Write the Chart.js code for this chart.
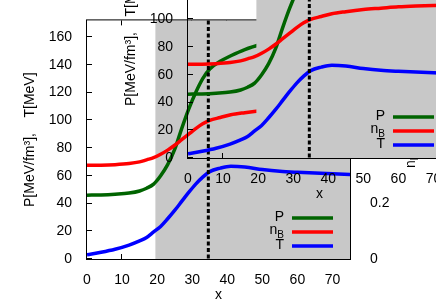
<!DOCTYPE html>
<html lang="en">
<head>
<meta charset="UTF-8">
<title>P, nB, T vs x</title>
<script src="https://cdn.jsdelivr.net/npm/chart.js@4.4.1/dist/chart.umd.min.js"></script>
<style>
  html, body { margin: 0; padding: 0; background: #fff; }
  #wrap { position: relative; width: 436px; height: 305px; overflow: hidden; }
  canvas { position: absolute; }
  #main { left: 0; top: 0; }
  #inset { left: 101px; top: -101px; }
</style>
</head>
<body>
<div id="wrap">
  <canvas id="main" width="436" height="305"></canvas>
  <canvas id="inset" width="436" height="305"></canvas>
</div>
<script>
// values
const xs     = [0, 4, 8, 12, 15, 17, 19, 21, 23, 25, 27, 29, 31, 33, 35, 38, 41, 45, 50, 55, 60, 65, 70, 75];
const pVals  = [46, 46.2, 46.7, 47.5, 49, 51, 54, 60, 68, 79, 94, 108, 120, 130, 137, 142.5, 146.5, 151, 155, 158, 160.5, 162.5, 164, 165];
const nbVals = [67.5, 67.6, 68, 68.8, 70, 71.5, 73, 75.5, 78.5, 82, 86, 90, 94, 97.5, 100, 102, 104, 105.5, 107, 108, 109, 109.6, 110, 110.3];
const tVals  = [3, 4.8, 7, 10, 13, 15.5, 19.5, 23.5, 29, 35, 41.5, 48, 54, 59, 63, 65.5, 66.8, 66.3, 64.5, 63.2, 62.5, 62, 61.5, 61];

const seriesNames = ['P', 'nB', 'T'];
const xTicks  = [0, 10, 20, 30, 40, 50, 60, 70];
const yTicks  = [0, 20, 40, 60, 80, 100, 120, 140, 160];
const y2Ticks = [0, 0.2, 0.4, 0.6, 0.8];
const shadeFrom = 19.5;   // grey band starts here
const vline = 34.6;       // dotted marker

const FONT = '"Liberation Sans", Arial, sans-serif';
const colors = ['#006400', '#ff0000', '#0000ff'];

function pts(vals) {
  return xs.map((x, i) => ({x: x, y: vals[i]}));
}

// draws "n" with a subscript B, or plain text; right aligned at xr
function legendText(ctx, text, xr, y) {
  ctx.textAlign = 'right';
  ctx.textBaseline = 'middle';
  if (text === 'nB') {
    ctx.font = '10px ' + FONT;
    const wb = ctx.measureText('B').width;
    ctx.fillText('B', xr, y + 4);
    ctx.font = '14px ' + FONT;
    ctx.fillText('n', xr - wb, y - 1);
  } else {
    ctx.font = '14px ' + FONT;
    ctx.fillText(text, xr, y);
  }
}

const framePlugin = {
  id: 'frame',
  beforeDatasetsDraw(chart) {
    const {ctx, chartArea: a, scales} = chart;
    const x = scales.x, y = scales.y, y2 = scales.y2;
    ctx.save();
    ctx.strokeStyle = '#000';
    ctx.lineWidth = 1;
    ctx.beginPath();
    x.ticks.forEach(t => {
      const px = Math.round(x.getPixelForValue(t.value)) - 0.5;
      ctx.moveTo(px, a.bottom); ctx.lineTo(px, a.bottom - 5);
      ctx.moveTo(px, a.top); ctx.lineTo(px, a.top + 5);
    });
    y.ticks.forEach(t => {
      const py = Math.round(y.getPixelForValue(t.value)) - 0.5;
      ctx.moveTo(a.left, py); ctx.lineTo(a.left + 5, py);
    });
    y2.ticks.forEach(t => {
      const py = Math.round(y2.getPixelForValue(t.value)) - 0.5;
      ctx.moveTo(a.right, py); ctx.lineTo(a.right - 5, py);
    });
    ctx.stroke();
    // grey band
    const sx = x.getPixelForValue(shadeFrom);
    ctx.fillStyle = '#c8c8c8';
    ctx.fillRect(sx, a.top, a.right - sx, a.bottom - a.top);
    ctx.restore();
  },
  afterDatasetsDraw(chart) {
    const {ctx, chartArea: a, scales} = chart;
    ctx.save();
    // dotted vertical line
    const vx = scales.x.getPixelForValue(vline);
    ctx.strokeStyle = '#000';
    ctx.lineWidth = 3;
    ctx.setLineDash([4, 2.5]);
    ctx.beginPath();
    ctx.moveTo(vx, a.top);
    ctx.lineTo(vx, a.bottom);
    ctx.stroke();
    ctx.setLineDash([]);
    // border
    ctx.lineWidth = 1;
    ctx.strokeRect(a.left - 0.5, a.top - 0.5, a.right - a.left + 1, a.bottom - a.top + 1);
    // key
    chart.data.datasets.forEach((ds, i) => {
      const ly = a.bottom - 41 + i * 14;
      ctx.strokeStyle = ds.borderColor;
      ctx.lineWidth = 3.5;
      ctx.beginPath();
      ctx.moveTo(a.right - 58, ly);
      ctx.lineTo(a.right - 17, ly);
      ctx.stroke();
      ctx.fillStyle = '#000';
      legendText(ctx, ds.label, a.right - 66, ly - 1);
    });
    ctx.restore();
  },
  afterDraw(chart) {
    // right axis title, reads bottom to top
    const {ctx, chartArea: a} = chart;
    ctx.save();
    ctx.translate(a.right + 61, a.bottom - 91);
    ctx.rotate(-Math.PI / 2);
    ctx.fillStyle = '#000';
    ctx.textAlign = 'left';
    ctx.textBaseline = 'middle';
    ctx.font = '14px ' + FONT;
    ctx.fillText('n', 0, 0);
    const wn = ctx.measureText('n').width;
    ctx.font = '10px ' + FONT;
    ctx.fillText('B', wn, 4);
    const wb = ctx.measureText('B').width;
    ctx.font = '14px ' + FONT;
    ctx.fillText('/n', wn + wb, 0);
    const w2 = ctx.measureText('/n').width;
    ctx.font = '10px ' + FONT;
    ctx.fillText('0', wn + wb + w2, 4);
    ctx.restore();
  }
};

function makeChart(id) {
  const tickFont = {family: FONT, size: 14};
  new Chart(document.getElementById(id), {
    type: 'line',
    data: {
      datasets: [
        {label: seriesNames[0], data: pts(pVals), borderColor: colors[0], order: 3},
        {label: seriesNames[1], data: pts(nbVals), borderColor: colors[1], order: 2},
        {label: seriesNames[2], data: pts(tVals), borderColor: colors[2], order: 1}
      ].map(d => Object.assign(d, {
        borderWidth: 3.5, pointRadius: 0, fill: false,
        cubicInterpolationMode: 'monotone', yAxisID: 'y'
      }))
    },
    options: {
      responsive: false,
      animation: false,
      devicePixelRatio: 1,
      layout: {padding: {top: 16, left: 0, right: 0, bottom: 0}},
      plugins: {legend: {display: false}, tooltip: {enabled: false}},
      scales: {
        x: {
          type: 'linear', min: 0, max: 75,
          afterBuildTicks: s => { s.ticks = xTicks.map(v => ({value: v})); },
          afterFit: s => { s.height = 46; },
          grid: {display: false}, border: {display: false},
          ticks: {font: tickFont, color: '#000', padding: 5, maxRotation: 0},
          title: {display: true, text: 'x', font: tickFont, color: '#000', padding: {top: 0, bottom: 1}}
        },
        y: {
          type: 'linear', position: 'left', min: 0, max: 172,
          afterBuildTicks: s => { s.ticks = yTicks.map(v => ({value: v})); },
          afterFit: s => { s.width = 87; },
          grid: {display: false}, border: {display: false},
          ticks: {font: tickFont, color: '#000', padding: 7},
          title: {display: true, text: 'P[MeV/fm³],    T[MeV]', font: tickFont, color: '#000', padding: {top: 22, bottom: 0}}
        },
        y2: {
          type: 'linear', position: 'right', min: 0, max: 0.86,
          afterBuildTicks: s => { s.ticks = y2Ticks.map(v => ({value: v})); },
          afterFit: s => { s.width = 86; },
          grid: {display: false}, border: {display: false},
          ticks: {font: tickFont, color: '#000', padding: 12}
        }
      }
    },
    plugins: [framePlugin]
  });
}

makeChart('main');
makeChart('inset');
</script>
</body>
</html>
